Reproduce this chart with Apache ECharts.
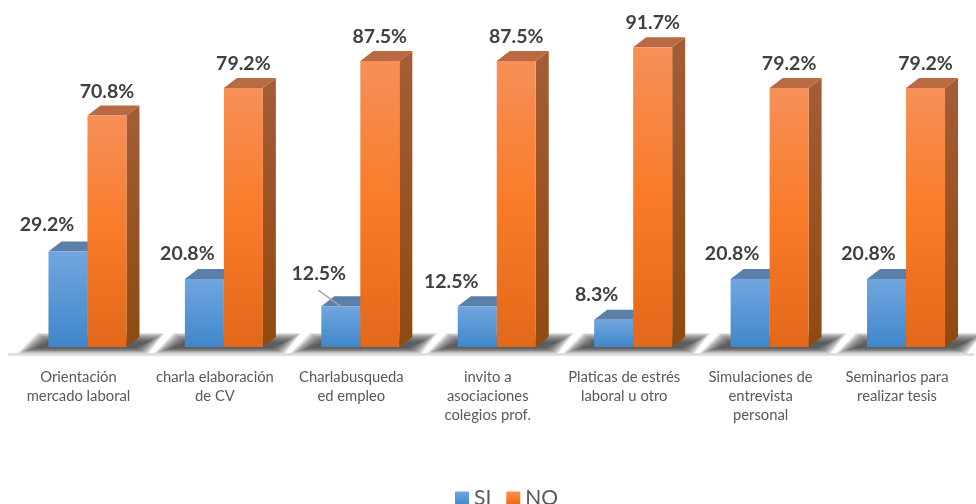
<!DOCTYPE html>
<html>
<head>
<meta charset="utf-8">
<script src="https://cdn.jsdelivr.net/npm/echarts@6/dist/echarts.min.js"></script>
<style>
  html, body { margin: 0; background: #fff; }
  #chart { width: 976px; height: 504px; }
</style>
</head>
<body>
<div id="chart"></div>
<script>
const categories = [
  'Orientación\nmercado laboral',
  'charla elaboración\nde CV',
  'Charlabusqueda\ned empleo',
  'invito a\nasociaciones\ncolegios prof.',
  'Platicas de estrés\nlaboral u otro',
  'Simulaciones de\nentrevista\npersonal',
  'Seminarios para\nrealizar tesis'
];
const si = [29.2, 20.8, 12.5, 12.5, 8.3, 20.8, 20.8];
const no = [70.8, 79.2, 87.5, 87.5, 91.7, 79.2, 79.2];

// where the SI labels sit relative to their bar, moved by hand in the original
const siLabelShift = [[-21, -27], [-17, -25], [-22, -32], [-26, -24], [-17, -25], [-18, -25], [-18, -25]];

const barW = 39;
const depthX = 13;
const depthY = 10;
const grad = (stops) => ({
  type: 'linear', x: 0, y: 0, x2: 0, y2: 1,
  colorStops: stops.map((c, i) => ({ offset: i / (stops.length - 1), color: c }))
});

const chart = echarts.init(document.getElementById('chart'));

// one 3D box: side, top, front, then the value label
function box(api, left, topFace, sideFace, labelX, labelY) {
  const base = api.coord([api.value(0), 0]);
  const top = api.coord([api.value(0), api.value(1)]);
  const x = base[0] + left;
  const children = [
    {
      type: 'polygon',
      shape: { points: [[x + barW, top[1]], [x + barW + depthX, top[1] - depthY], [x + barW + depthX, base[1] - depthY], [x + barW, base[1]]] },
      style: { fill: sideFace }
    },
    {
      type: 'polygon',
      shape: { points: [[x, top[1]], [x + depthX, top[1] - depthY], [x + barW + depthX, top[1] - depthY], [x + barW, top[1]]] },
      style: { fill: topFace }
    },
    {
      type: 'rect',
      shape: { x: x, y: top[1], width: barW, height: base[1] - top[1] },
      style: { fill: api.visual('color') }
    },
    {
      type: 'text',
      style: {
        x: x + barW / 2 + labelX,
        y: top[1] + labelY,
        text: api.value(1).toFixed(1) + '%',
        align: 'center',
        verticalAlign: 'middle',
        font: 'bold 19.5px Lato',
        fill: '#404040'
      }
    }
  ];
  return { type: 'group', children: children };
}

// soft shadow: stacked see-through polygons, each a bit smaller than the last
function softShadow(p) {
  const layers = [];
  for (let k = 10; k >= 0; k--) {
    layers.push({
      type: 'polygon',
      shape: { points: [
        [p[0] - 52 - k * 1.8, p[1] + 1 + k * 0.55],
        [p[0] - 38 - k * 1.2, p[1] - 5 - k * 0.9],
        [p[0] + 61 + k * 1.6, p[1] - 5 - k * 0.9],
        [p[0] + 47 + k * 1.4, p[1] + 1 + k * 0.55]
      ] },
      style: { fill: 'rgba(50,50,50,0.13)' }
    });
  }
  return layers;
}

const option = {
  animation: false,
  grid: { left: 19.25, right: 1.75, top: 20, bottom: 157 },
  legend: {
    data: ['SI', 'NO'],
    left: 450,
    top: 483,
    icon: 'rect',
    itemWidth: 14,
    itemHeight: 14,
    itemGap: 15,
    textStyle: { fontFamily: 'Lato', fontSize: 21, color: '#595959' }
  },
  xAxis: {
    type: 'category',
    data: categories,
    axisLine: { show: false },
    axisTick: { show: false },
    axisLabel: {
      interval: 0,
      margin: 21,
      padding: [0, 18, 0, 0],
      fontFamily: 'Lato',
      fontSize: 14.8,
      lineHeight: 19,
      color: '#595959'
    }
  },
  yAxis: { type: 'value', min: 0, max: 100, show: false },
  series: [
    {
      // floor line and shadow under each pair of bars
      type: 'custom',
      name: 'piso',
      z: 1,
      silent: true,
      data: categories.map((c, i) => [i]),
      renderItem: function (params, api) {
        const p = api.coord([api.value(0), 0]);
        const step = api.size([1, 0])[0];
        const first = params.dataIndex === 0 ? 11 : 0;
        const floor = {
          type: 'rect',
          shape: { x: p[0] - step / 2 - first, y: p[1] + 6, width: step + first, height: 3 },
          style: { fill: '#e0e0e0' }
        };
        return { type: 'group', children: [floor].concat(softShadow(p)) };
      }
    },
    {
      type: 'custom',
      name: 'SI',
      z: 2,
      itemStyle: { color: grad(['#71a6de', '#3f87cb']) },
      data: si.map((v, i) => [i, v]),
      renderItem: function (params, api) {
        const s = siLabelShift[params.dataIndex];
        const g = box(api, -barW, '#5a7fa8', '#3f6f9f', s[0], s[1]);
        if (params.dataIndex === 2) {
          // leader line from the moved label back to its bar
          const t = api.coord([api.value(0), api.value(1)]);
          g.children.push({
            type: 'line',
            shape: { x1: t[0] - 42, y1: t[1] - 16, x2: t[0] - 20, y2: t[1] },
            style: { stroke: '#a6a6a6', lineWidth: 1.5 }
          });
        }
        return g;
      }
    },
    {
      type: 'custom',
      name: 'NO',
      z: 3,
      itemStyle: { color: grad(['#f69058', '#f97b28', '#e2681a']) },
      data: no.map((v, i) => [i, v]),
      renderItem: function (params, api) {
        return box(api, 0, '#b86a42', grad(['#a45d36', '#8f4a10']), 0, -24);
      }
    }
  ]
};

chart.setOption(option);
</script>
</body>
</html>
